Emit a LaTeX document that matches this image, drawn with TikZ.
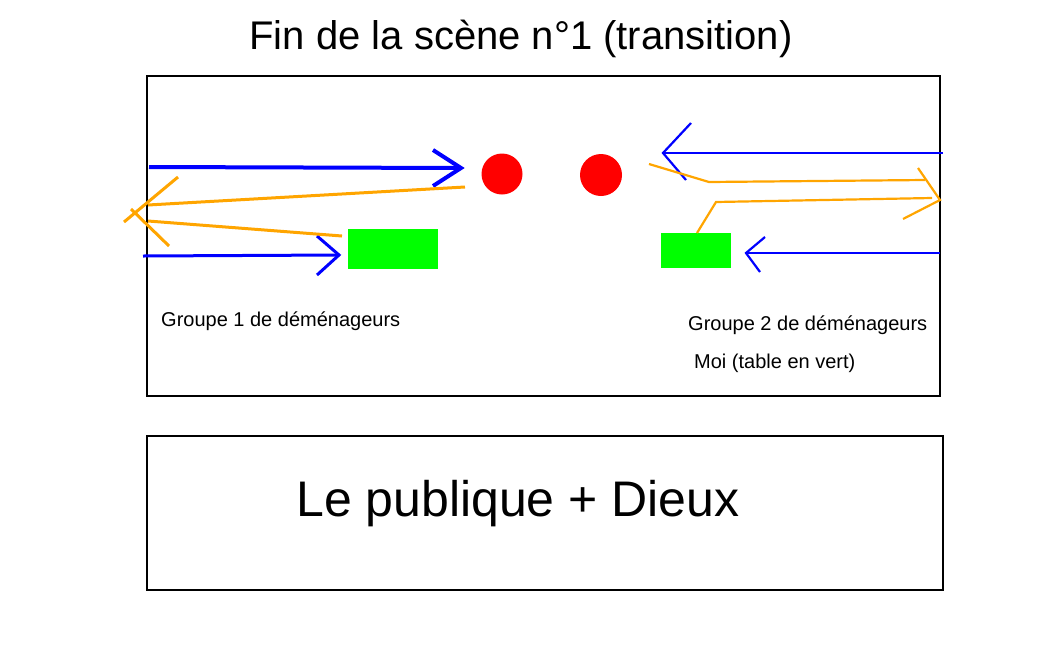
\documentclass[tikz,border=0pt]{standalone}
\usepackage{fontspec}
\setmainfont{Liberation Sans}
\definecolor{myorange}{RGB}{255,165,0}
\definecolor{myblue}{RGB}{0,0,255}
\definecolor{myred}{RGB}{255,0,0}
\definecolor{mygreen}{RGB}{0,255,0}
\begin{document}
\begin{tikzpicture}[x=1pt,y=-1pt,
  frame/.style={draw=black,line width=2pt},
  bluethick/.style={draw=myblue,line width=4pt},
  bluemid/.style={draw=myblue,line width=3pt},
  bluethin/.style={draw=myblue,line width=2.2pt},
  orthick/.style={draw=myorange,line width=3pt},
  orthin/.style={draw=myorange,line width=2.2pt},
  table/.style={fill=mygreen},
  person/.style={fill=myred},
  lbl/.style={anchor=base west,inner sep=0pt,font=\fontsize{20}{24}\selectfont}]
\useasboundingbox (0,0) rectangle (1054,646);
% title
\node[anchor=base,inner sep=0pt,font=\fontsize{40}{48}\selectfont] (title) at (521,49) {Fin de la scène n°1 (transition)};
% frames
\draw[frame] (147,76) rectangle (940,396);
\draw[frame] (147,436) rectangle (943,590);
% people and tables
\fill[person] (502,174) circle (20.5);
\fill[person] (601,175) circle (21);
\fill[table] (348,229) rectangle (438,269);
\fill[table] (661,233) rectangle (731,268);
% left side blue arrows
\draw[bluethick] (149,167) -- (461,168);
\draw[bluethick,line join=miter] (433,150) -- (461,168) -- (433,186);
\draw[bluemid] (143,256) -- (339,255);
\draw[bluemid] (317,236) -- (339,255) -- (317,275);
% left side orange
\draw[orthick] (465,187) -- (148,205);
\draw[orthick] (178,177) -- (124,222);
\draw[orthick] (131,209) -- (169,246);
\draw[orthick] (148,221) -- (342,236);
% right side blue
\draw[bluethin] (943,153) -- (663,153);
\draw[bluethin] (691,123) -- (663,153) -- (686,180);
\draw[bluethin] (940,253) -- (746,253);
\draw[bluethin] (765,237) -- (746,253) -- (760,272);
% right side orange
\draw[orthin] (649,164) -- (709,182) -- (925,180);
\draw[orthin] (918,168) -- (940,200) -- (903,219);
\draw[orthin] (932,198) -- (716,202) -- (697,233);
% labels
\node[lbl] (g1) at (161,326) {Groupe 1 de déménageurs};
\node[lbl] (g2) at (688,330) {Groupe 2 de déménageurs};
\node[lbl] (moi) at (694,368) {Moi (table en vert)};
\node[anchor=base west,inner sep=0pt,font=\fontsize{50}{60}\selectfont] (pub) at (296,516) {Le publique + Dieux};
\end{tikzpicture}
\end{document}
